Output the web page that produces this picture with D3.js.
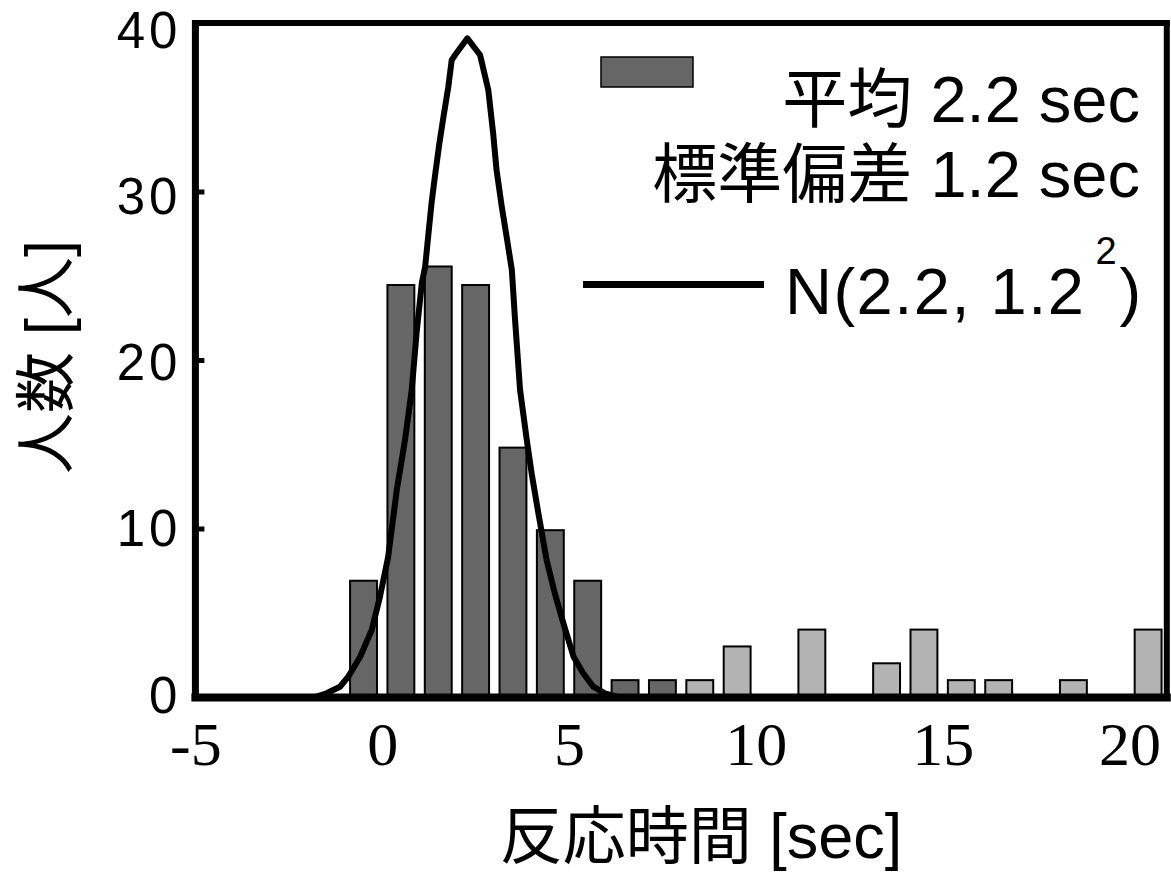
<!DOCTYPE html>
<html>
<head>
<meta charset="utf-8">
<script src="https://cdn.jsdelivr.net/npm/d3@7"></script>
<style>
  html, body { margin: 0; padding: 0; background: #ffffff; }
  svg { display: block; }
</style>
</head>
<body>
<script>
// ---------- data ----------
const binCenters = [-0.5, 0.5, 1.5, 2.5, 3.5, 4.5, 5.5, 6.5, 7.5, 8.5, 9.5, 10.5,
                    11.5, 12.5, 13.5, 14.5, 15.5, 16.5, 17.5, 18.5, 19.5, 20.5];
const counts     = [6.9, 24.45, 25.55, 24.45, 14.8, 9.9, 6.9, 1, 1, 1, 3, 0,
                    4, 0, 2, 4, 1, 1, 0, 1, 0, 4];
const groups     = ["in", "in", "in", "in", "in", "in", "in", "in", "in", "out", "out", "out",
                    "out", "out", "out", "out", "out", "out", "out", "out", "out", "out"];
const curveX = [-5, -1.8, -1.49, -1.13, -0.91, -0.59, -0.28, -0.06, 0.16, 0.39, 0.61, 0.79, 0.92,
                1.06, 1.15, 1.23, 1.32, 1.41, 1.53, 1.64, 1.77, 1.86, 1.95, 2.28, 2.62, 2.84,
                2.97, 3.06, 3.20, 3.33, 3.47, 3.55, 3.69, 3.87, 4.00, 4.18, 4.40, 4.62, 4.85,
                5.12, 5.38, 5.65, 5.96, 6.3, 20];
const curveY = [0, 0, 0.22, 0.61, 1.20, 2.39, 3.98, 5.95, 8.33, 12.28, 15.25, 18.22, 21.60,
                24.57, 25.54, 27.32, 29.30, 30.88, 32.86, 34.44, 36.22, 37.80, 38.10, 39.09, 38.10, 36.02,
                33.45, 31.28, 29.10, 27.32, 25.34, 22.57, 18.22, 15.25, 13.27, 10.90, 8.13, 6.15, 4.37,
                2.39, 1.41, 0.61, 0.22, 0, 0];
const xTicks = [-5, 0, 5, 10, 15, 20];
const xTickLabels = ["-5", "0", "5", "10", "15", "20"];
const yTicks = [0, 10, 20, 30, 40];
const yTickLabels = ["0", "10", "20", "30", "40"];
const xTitle = "反応時間 [sec]";
const yTitle = "人数 [人]";
const legendMean = "平均 2.2 sec";
const legendSd = "標準偏差 1.2 sec";
const legendNormMain = "N(2.2, 1.2";
const legendNormSup = "2";
const legendNormEnd = ")";

// ---------- setup ----------
const W = 1171, H = 873;
const svg = d3.select("body").append("svg").attr("width", W).attr("height", H);
const x = d3.scaleLinear().domain([-5, 21]).range([195.4, 1166.8]);
const y = d3.scaleLinear().domain([0, 40]).range([697, 23]);
// baseline positions of the y tick labels (slightly compressed, as in the original)
const yLabel = d3.scaleLinear().domain([0, 40]).range([712, 47]);
const fill = { in: "#666666", out: "#b3b3b3" };
const sans = "'Liberation Sans', Arial, 'Noto Sans CJK JP', sans-serif";
const serif = "'Liberation Serif', 'Times New Roman', serif";
const barHalf = 0.36;

// ---------- bars ----------
const bars = binCenters.map((c, i) => ({ c, v: counts[i], g: groups[i] })).filter(d => d.v > 0);
svg.append("g").selectAll("rect").data(bars).join("rect")
  .attr("x", d => x(d.c - barHalf))
  .attr("width", d => x(d.c + barHalf) - x(d.c - barHalf))
  .attr("y", d => y(d.v))
  .attr("height", d => y(0) - y(d.v))
  .attr("fill", d => fill[d.g])
  .attr("stroke", "#000")
  .attr("stroke-width", 2);

// ---------- normal curve ----------
const pts = curveX.map((v, i) => [v, curveY[i]]);
svg.append("path")
  .datum(pts)
  .attr("fill", "none")
  .attr("stroke", "#000")
  .attr("stroke-width", 6)
  .attr("stroke-linejoin", "round")
  .attr("d", d3.line().x(d => x(d[0])).y(d => y(d[1])));

// ---------- frame / axes ----------
const frame = svg.append("g").attr("stroke", "#000").attr("stroke-linecap", "square");
frame.append("line").attr("x1", x(-5)).attr("x2", x(21)).attr("y1", y(40)).attr("y2", y(40)).attr("stroke-width", 6);
frame.append("line").attr("x1", x(21)).attr("x2", x(21)).attr("y1", y(40)).attr("y2", y(0)).attr("stroke-width", 6);
frame.append("line").attr("x1", x(-5)).attr("x2", x(21)).attr("y1", y(0) + 0.5).attr("y2", y(0) + 0.5).attr("stroke-width", 8);

const yAxis = svg.append("g").attr("transform", `translate(${x(-5)},0)`)
  .call(d3.axisLeft(y).tickValues(yTicks).tickSize(-9).tickPadding(16)
    .tickFormat((d, i) => yTickLabels[i]));
yAxis.select(".domain").attr("stroke", "#000").attr("stroke-width", 7).attr("d", `M0,${y(40) - 3}V${y(0) + 4}`);
yAxis.selectAll(".tick line").attr("stroke", "#000").attr("stroke-width", 5);
yAxis.selectAll(".tick text")
  .attr("font-family", sans).attr("font-size", 51).attr("letter-spacing", 4)
  .attr("fill", "#000").attr("dy", 0)
  .attr("y", d => yLabel(d) - y(d))
  .attr("x", -14);

const xAxis = svg.append("g").attr("transform", `translate(0,${y(0)})`)
  .call(d3.axisBottom(x).tickValues(xTicks).tickSize(0).tickPadding(0)
    .tickFormat((d, i) => xTickLabels[i]));
xAxis.select(".domain").remove();
xAxis.selectAll(".tick text")
  .attr("font-family", serif).attr("font-size", 62).attr("fill", "#000")
  .attr("y", 68).attr("dy", 0);

// ---------- titles ----------
svg.append("text")
  .attr("x", 701).attr("y", 858)
  .attr("text-anchor", "middle")
  .attr("font-family", sans).attr("font-size", 63).attr("fill", "#000")
  .text(xTitle);

svg.append("text")
  .attr("transform", "translate(68,357) rotate(-90)")
  .attr("text-anchor", "middle")
  .attr("font-family", sans).attr("font-size", 61).attr("fill", "#000")
  .text(yTitle);

// ---------- legend ----------
const lg = svg.append("g");
lg.append("rect").attr("x", 601).attr("y", 57).attr("width", 92).attr("height", 30)
  .attr("fill", fill.in).attr("stroke", "#000").attr("stroke-width", 1.5);
lg.append("text").attr("x", 1140).attr("y", 122).attr("text-anchor", "end")
  .attr("font-family", sans).attr("font-size", 65).attr("fill", "#000").text(legendMean);
lg.append("text").attr("x", 1140).attr("y", 197).attr("text-anchor", "end")
  .attr("font-family", sans).attr("font-size", 65).attr("fill", "#000").text(legendSd);
lg.append("line").attr("x1", 583).attr("x2", 764).attr("y1", 284.5).attr("y2", 284.5)
  .attr("stroke", "#000").attr("stroke-width", 7);
const nt = lg.append("text").attr("x", 785).attr("y", 314)
  .attr("font-family", sans).attr("font-size", 65).attr("fill", "#000");
nt.append("tspan").attr("letter-spacing", 1.5).text(legendNormMain);
nt.append("tspan").attr("font-size", 38).attr("dx", 10).attr("dy", -50).text(legendNormSup);
nt.append("tspan").attr("dx", 3).attr("dy", 50).text(legendNormEnd);
</script>
</body>
</html>
